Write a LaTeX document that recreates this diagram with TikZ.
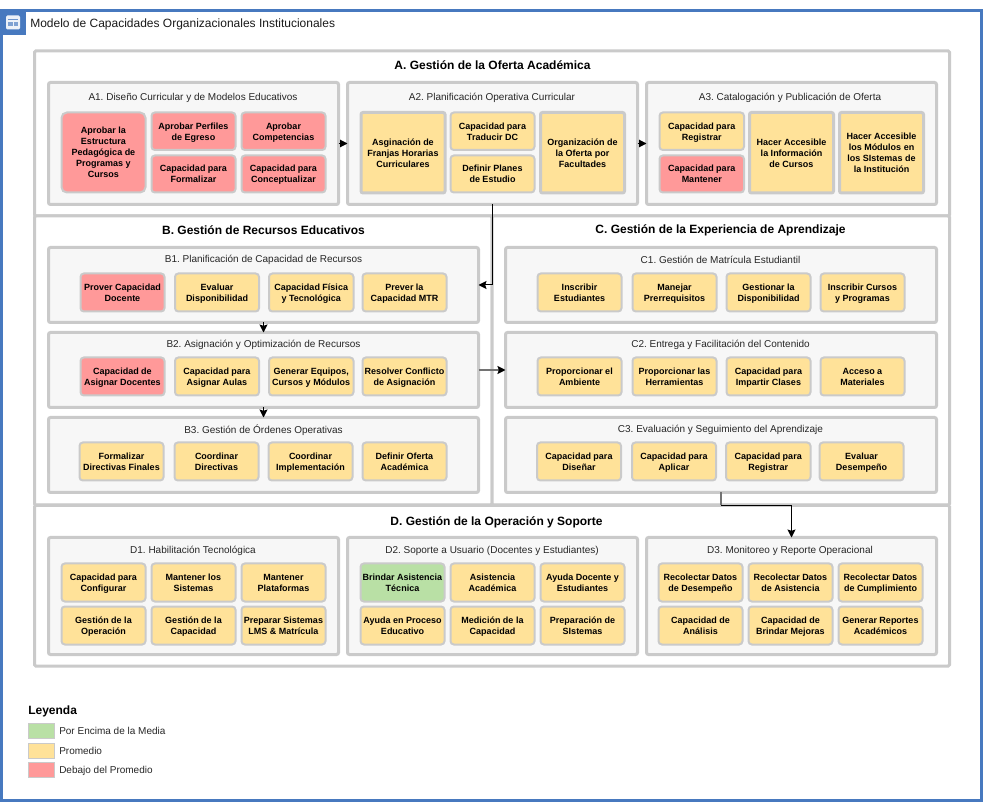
\documentclass[tikz,border=0pt]{standalone}
\usepackage{fontspec}
\setmainfont{Liberation Sans}
\usetikzlibrary{arrows.meta}
\frenchspacing
\definecolor{bluef}{HTML}{4779BF}
\definecolor{edgeg}{HTML}{CACACA}
\definecolor{panel}{HTML}{F7F7F7}
\definecolor{redc}{HTML}{FF9999}
\definecolor{yelc}{HTML}{FFE299}
\definecolor{grec}{HTML}{B9E0A5}
\newcommand\pxbox[6]{\node[#6,minimum width={(#4-#2)*0.75pt},minimum height={(#5-#3)*0.75pt}] (#1) at ({(#2+#4)/2},{(#3+#5)/2}) {};}
\newcommand\capbox[7]{\node[capn,#6,minimum width={(#4-#2-2)*0.75pt},minimum height={(#5-#3-2)*0.75pt}] (#1) at ({(#2+#4)/2},{(#3+#5)/2}) {\rule{0pt}{6.5pt}#7\rule[-1.5pt]{0pt}{1.5pt}};}
\newcommand\capthick[7]{\node[capn,#6,line width=2.25pt,rounded corners=1.5pt,minimum width={(#4-#2-3)*0.75pt},minimum height={(#5-#3-3)*0.75pt}] (#1) at ({(#2+#4)/2},{(#3+#5)/2}) {\rule{0pt}{6.5pt}#7\rule[-1.5pt]{0pt}{1.5pt}};}
\tikzset{
  section/.style={draw=edgeg,fill=white,line width=2.25pt,rounded corners=1pt,inner sep=0pt,outer sep=0pt},
  subpanel/.style={draw=edgeg,fill=panel,line width=2.25pt,rounded corners=1.5pt,inner sep=0pt,outer sep=0pt},
  capn/.style={draw=edgeg,line width=1.5pt,rounded corners=2.5pt,inner sep=0pt,outer sep=0pt,align=center,font=\fontsize{6.75}{8.25}\selectfont\bfseries},
  low/.style={fill=redc},
  mid/.style={fill=yelc},
  high/.style={fill=grec},
  sectitle/.style={font=\fontsize{9}{11}\selectfont\bfseries,inner sep=0pt},
  subtitle/.style={font=\fontsize{7.5}{9}\selectfont,inner sep=0pt,text=black!85,yshift=-0.4pt},
  legtext/.style={font=\fontsize{7.5}{9}\selectfont,inner sep=0pt,anchor=west,text=black!85},
  swatch/.style={draw=edgeg,line width=0.75pt,inner sep=0pt,outer sep=0pt},
  flow/.style={line width=0.75pt,-{Stealth[length=6pt,width=6pt,inset=1pt,black]}},
  flowshort/.style={line width=0.75pt,-{Stealth[length=5.5pt,width=5.5pt,inset=0pt,black]}},
  softline/.style={line width=1.5pt,draw=black!55},
}
\begin{document}
\begin{tikzpicture}[x=0.75pt,y=-0.75pt]
\useasboundingbox (0,0) rectangle (983,802);
% outer frame
\draw[bluef,line width=2.25pt] (1.5,10.5) rectangle (981,800);
\fill[bluef] (0,9.5) rectangle (26,35.5);
\fill[white,opacity=0.9,rounded corners=1pt] (6,15.5) rectangle (20,29.5);
\draw[bluef!80,line width=0.75pt] (8,19.5) -- (18,19.5);
\fill[bluef!70] (8,22) rectangle (12.5,26);
\fill[bluef!70] (13.5,22) rectangle (18,26);
\node[font=\fontsize{9}{11}\selectfont,anchor=west,inner sep=0pt,text=black!90] (maintitle) at (30,24) {Modelo de Capacidades Organizacionales Institucionales};
% sections
\pxbox{A}{34.5}{51}{949.5}{216}{section}
\pxbox{B}{34.5}{216}{492}{505}{section}
\pxbox{C}{492}{216}{949.5}{505}{section}
\pxbox{D}{34.5}{505.5}{949.5}{666}{section}
\node[sectitle] (tA) at (492.5,65) {A. Gestión de la Oferta Académica};
\node[sectitle] (tB) at (263.5,230) {B. Gestión de Recursos Educativos};
\node[sectitle] (tC) at (720.5,230) {C. Gestión de la Experiencia de Aprendizaje};
\node[sectitle] (tD) at (496.5,522) {D. Gestión de la Operación y Soporte};
% panels
\pxbox{A1}{48.5}{82.5}{338.5}{204.5}{subpanel}
\pxbox{A2}{347.5}{82.5}{637.5}{204.5}{subpanel}
\pxbox{A3}{646.5}{82.5}{936.5}{204.5}{subpanel}
\pxbox{B1}{48.5}{247.5}{478.5}{322.5}{subpanel}
\pxbox{B2}{48.5}{332.5}{478.5}{407.5}{subpanel}
\pxbox{B3}{48.5}{417.5}{478.5}{492.5}{subpanel}
\pxbox{C1}{505.5}{247.5}{936.5}{322.5}{subpanel}
\pxbox{C2}{505.5}{332.5}{936.5}{407.5}{subpanel}
\pxbox{C3}{505.5}{417.5}{936.5}{492.5}{subpanel}
\pxbox{D1}{48.5}{537.5}{338.5}{654.5}{subpanel}
\pxbox{D2}{347.5}{537.5}{637.5}{654.5}{subpanel}
\pxbox{D3}{646.5}{537.5}{936.5}{654.5}{subpanel}
\node[subtitle] (tA1) at (193,97) {A1. Diseño Curricular y de Modelos Educativos};
\node[subtitle] (tA2) at (492,97) {A2. Planificación Operativa Curricular};
\node[subtitle] (tA3) at (790,97) {A3. Catalogación y Publicación de Oferta};
\node[subtitle] (tB1) at (263.5,259.5) {B1. Planificación de Capacidad de Recursos};
\node[subtitle] (tB2) at (263.5,344.5) {B2. Asignación y Optimización de Recursos};
\node[subtitle] (tB3) at (263.5,429.5) {B3. Gestión de Órdenes Operativas};
\node[subtitle] (tC1) at (720.5,259.5) {C1. Gestión de Matrícula Estudiantil};
\node[subtitle] (tC2) at (720.5,344.5) {C2. Entrega y Facilitación del Contenido};
\node[subtitle] (tC3) at (720.5,429.5) {C3. Evaluación y Seguimiento del Aprendizaje};
\node[subtitle] (tD1) at (193,550) {D1. Habilitación Tecnológica};
\node[subtitle] (tD2) at (492,550) {D2. Soporte a Usuario (Docentes y Estudiantes)};
\node[subtitle] (tD3) at (790,550) {D3. Monitoreo y Reporte Operacional};
% A1
\capbox{a11}{60.5}{111.5}{146.5}{193.5}{low,rounded corners=4pt}{Aprobar la\\Estructura\\Pedagógica de\\Programas y\\Cursos}
\capbox{a12}{150.5}{111.5}{236.5}{151}{low}{Aprobar Perfiles\\de Egreso}
\capbox{a13}{240.5}{111.5}{326.5}{151}{low}{Aprobar\\Competencias}
\capbox{a14}{150.5}{154.5}{236.5}{193.5}{low}{Capacidad para\\Formalizar}
\capbox{a15}{240.5}{154.5}{326.5}{193.5}{low}{Capacidad para\\Conceptualizar}
% A2
\capthick{a21}{359.5}{111}{446.5}{194.5}{mid}{Asginación de\\Franjas Horarias\\Curriculares}
\capbox{a22}{449.5}{111.5}{535.5}{151}{mid}{Capacidad para\\Traducir DC}
\capbox{a23}{449.5}{154.5}{535.5}{193.5}{mid}{Definir Planes\\de Estudio}
\capthick{a24}{539}{111}{626}{194.5}{mid}{Organización de\\la Oferta por\\Facultades}
% A3
\capbox{a31}{658.5}{111.5}{745}{151}{mid}{Capacidad para\\Registrar}
\capbox{a32}{658.5}{154.5}{745}{193.5}{low}{Capacidad para\\Mantener}
\capthick{a33}{748}{111}{835}{194.5}{mid}{Hacer Accesible\\la Información\\de Cursos}
\capthick{a34}{838}{111}{925}{194.5}{mid}{Hacer Accesible\\los Módulos en\\los SIstemas de\\la Institución}
% B1
\capbox{b11}{79.5}{272.5}{165.5}{312.5}{low}{Prover Capacidad\\Docente}
\capbox{b12}{174}{272.5}{260}{312.5}{mid}{Evaluar\\Disponibilidad}
\capbox{b13}{268}{272.5}{354.5}{312.5}{mid}{Capacidad Física\\y Tecnológica}
\capbox{b14}{361.5}{272.5}{447.5}{312.5}{mid}{Prever la\\Capacidad MTR}
% B2
\capbox{b21}{79.5}{356.5}{165.5}{396.5}{low}{Capacidad de\\Asignar Docentes}
\capbox{b22}{174}{356.5}{260}{396.5}{mid}{Capacidad para\\Asignar Aulas}
\capbox{b23}{268}{356.5}{354.5}{396.5}{mid}{Generar Equipos,\\Cursos y Módulos}
\capbox{b24}{361.5}{356.5}{447.5}{396.5}{mid}{Resolver Conflicto\\de Asignación}
% B3
\capbox{b31}{78.5}{441.5}{164.5}{481.5}{mid}{Formalizar\\Directivas Finales}
\capbox{b32}{173.5}{441.5}{259.5}{481.5}{mid}{Coordinar\\Directivas}
\capbox{b33}{267.5}{441.5}{353.5}{481.5}{mid}{Coordinar\\Implementación}
\capbox{b34}{361.5}{441.5}{447.5}{481.5}{mid}{Definir Oferta\\Académica}
% C1
\capbox{c11}{536.5}{272.5}{622.5}{312.5}{mid}{Inscribir\\Estudiantes}
\capbox{c12}{631.5}{272.5}{717.5}{312.5}{mid}{Manejar\\Prerrequisitos}
\capbox{c13}{725.5}{272.5}{811.5}{312.5}{mid}{Gestionar la\\Disponibilidad}
\capbox{c14}{819.5}{272.5}{905.5}{312.5}{mid}{Inscribir Cursos\\y Programas}
% C2
\capbox{c21}{536.5}{356.5}{622.5}{396.5}{mid}{Proporcionar el\\Ambiente}
\capbox{c22}{631.5}{356.5}{717.5}{396.5}{mid}{Proporcionar las\\Herramientas}
\capbox{c23}{725.5}{356.5}{811.5}{396.5}{mid}{Capacidad para\\Impartir Clases}
\capbox{c24}{819.5}{356.5}{905.5}{396.5}{mid}{Acceso a\\Materiales}
% C3
\capbox{c31}{536}{441.5}{622}{481.5}{mid}{Capacidad para\\Diseñar}
\capbox{c32}{631}{441.5}{717}{481.5}{mid}{Capacidad para\\Aplicar}
\capbox{c33}{725}{441.5}{811.5}{481.5}{mid}{Capacidad para\\Registrar}
\capbox{c34}{818.5}{441.5}{904.5}{481.5}{mid}{Evaluar\\Desempeño}
% D1
\capbox{d11}{60.5}{562.5}{146.5}{602.5}{mid}{Capacidad para\\Configurar}
\capbox{d12}{150.5}{562.5}{236.5}{602.5}{mid}{Mantener los\\Sistemas}
\capbox{d13}{240.5}{562.5}{326.5}{602.5}{mid}{Mantener\\Plataformas}
\capbox{d14}{60.5}{605.5}{146.5}{645.5}{mid}{Gestión de la\\Operación}
\capbox{d15}{150.5}{605.5}{236.5}{645.5}{mid}{Gestión de la\\Capacidad}
\capbox{d16}{240.5}{605.5}{326.5}{645.5}{mid}{Preparar Sistemas\\LMS \& Matrícula}
% D2
\capbox{d21}{359.5}{562.5}{445.5}{602.5}{high}{Brindar Asistencia\\Técnica}
\capbox{d22}{449.5}{562.5}{535.5}{602.5}{mid}{Asistencia\\Académica}
\capbox{d23}{539.5}{562.5}{625.5}{602.5}{mid}{Ayuda Docente y\\Estudiantes}
\capbox{d24}{359.5}{605.5}{445.5}{645.5}{mid}{Ayuda en Proceso\\Educativo}
\capbox{d25}{449.5}{605.5}{535.5}{645.5}{mid}{Medición de la\\Capacidad}
\capbox{d26}{539.5}{605.5}{625.5}{645.5}{mid}{Preparación de\\SIstemas}
% D3
\capbox{d31}{657.5}{562.5}{743.5}{602.5}{mid}{Recolectar Datos\\de Desempeño}
\capbox{d32}{747.5}{562.5}{833.5}{602.5}{mid}{Recolectar Datos\\de Asistencia}
\capbox{d33}{837.5}{562.5}{923.5}{602.5}{mid}{Recolectar Datos\\de Cumplimiento}
\capbox{d34}{657.5}{605.5}{743.5}{645.5}{mid}{Capacidad de\\Análisis}
\capbox{d35}{747.5}{605.5}{833.5}{645.5}{mid}{Capacidad de\\Brindar Mejoras}
\capbox{d36}{837.5}{605.5}{923.5}{645.5}{mid}{Generar Reportes\\Académicos}
% connectors
\draw[flowshort] (A1.east) -- (A2.west);
\draw[flowshort] (A2.east) -- (A3.west);
\draw[flow] (A2.south) |- (B1.east);
\draw[flow] (B1.south) -- (B2.north);
\draw[flow] (B2.south) -- (B3.north);
\draw[flow,draw=black!55,line width=1.5pt] (B2.east) -- (C2.west);
\coordinate (turn) at (C3.south |- D.north);
\draw[softline] (C3.south) -- (turn);
\draw[flow] (turn) -| (D3.north);
% legend
\node[font=\fontsize{9}{11}\selectfont\bfseries,anchor=west,inner sep=0pt] (legtitle) at (28,711) {Leyenda};
\node[swatch,fill=grec,minimum width=19.5pt,minimum height=11.25pt] (sw1) at (41.5,731) {};
\node[swatch,fill=yelc,minimum width=19.5pt,minimum height=11.25pt] (sw2) at (41.5,751) {};
\node[swatch,fill=redc,minimum width=19.5pt,minimum height=11.25pt] (sw3) at (41.5,770) {};
\node[legtext] (lg1) at (59,731) {Por Encima de la Media};
\node[legtext] (lg2) at (59,751) {Promedio};
\node[legtext] (lg3) at (59,771) {Debajo del Promedio};
\end{tikzpicture}
\end{document}
